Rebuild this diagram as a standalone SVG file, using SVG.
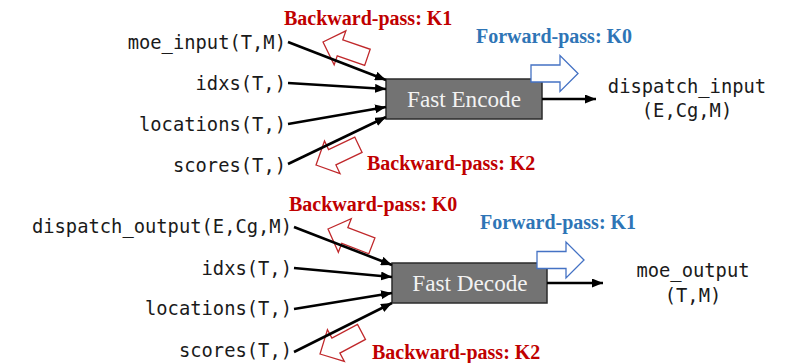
<svg xmlns="http://www.w3.org/2000/svg" width="804" height="363" viewBox="0 0 804 363">
  <style>
    .mono { font-family: "DejaVu Sans Mono", "Liberation Mono", monospace; font-size: 18.8px; fill: #1a1a1a; }
    .box { fill: #737373; stroke: #2b2b2b; stroke-width: 1.5; }
    .boxtxt { font-family: "Liberation Serif", "Times New Roman", serif; font-size: 23.2px; fill: #f2f2f2; text-anchor: middle; }
    .bwd { font-family: "Liberation Serif", "Times New Roman", serif; font-size: 20px; font-weight: bold; fill: #c00000; }
    .fwd { font-family: "Liberation Serif", "Times New Roman", serif; font-size: 20px; font-weight: bold; fill: #2e75b6; }
    .wire { stroke: #000; stroke-width: 2.6; fill: none; marker-end: url(#head); }
    .hollow-red { fill: none; stroke: #c0282b; stroke-width: 1.3; }
    .hollow-blue { fill: #fff; stroke: #4472c4; stroke-width: 1.3; }
  </style>
  <defs>
    <marker id="head" markerUnits="userSpaceOnUse" markerWidth="11" markerHeight="9" refX="11" refY="4.5" orient="auto">
      <path d="M0,0 L11,4.5 L0,9 z" fill="#000"/>
    </marker>
    <!-- block arrow with its tip at the origin, pointing along +x -->
    <path id="blockArrow" d="M0,0 L-18,-18 L-18,-8.5 L-47,-8.5 L-47,8.5 L-18,8.5 L-18,18 Z"/>
  </defs>

  <!-- ===== Encode stage ===== -->
  <g id="encode-inputs">
    <text class="mono" x="286" y="49" text-anchor="end">moe_input(T,M)</text>
    <text class="mono" x="286" y="90" text-anchor="end">idxs(T,)</text>
    <text class="mono" x="286" y="131" text-anchor="end">locations(T,)</text>
    <text class="mono" x="286" y="172" text-anchor="end">scores(T,)</text>
  </g>

  <g id="encode-backward">
    <use href="#blockArrow" class="hollow-red" transform="translate(323,42) rotate(199)"/>
    <use href="#blockArrow" class="hollow-red" transform="translate(316,165) rotate(154.5)"/>
    <text class="bwd" x="284" y="25">Backward-pass: K1</text>
    <text class="bwd" x="367" y="170">Backward-pass: K2</text>
  </g>

  <g id="fast-encode">
    <rect class="box" x="386" y="79" width="156" height="40"/>
    <text class="boxtxt" x="464" y="107">Fast Encode</text>
  </g>

  <g id="encode-forward">
    <use href="#blockArrow" class="hollow-blue" transform="translate(578,73.5)"/>
    <text class="fwd" x="476" y="43">Forward-pass: K0</text>
  </g>

  <g id="encode-output">
    <text class="mono" x="687" y="93" text-anchor="middle">dispatch_input</text>
    <text class="mono" x="687" y="117" text-anchor="middle">(E,Cg,M)</text>
  </g>

  <!-- ===== Decode stage ===== -->
  <g id="decode-inputs">
    <text class="mono" x="292" y="233" text-anchor="end">dispatch_output(E,Cg,M)</text>
    <text class="mono" x="292" y="275" text-anchor="end">idxs(T,)</text>
    <text class="mono" x="292" y="315" text-anchor="end">locations(T,)</text>
    <text class="mono" x="292" y="357" text-anchor="end">scores(T,)</text>
  </g>

  <g id="decode-backward">
    <use href="#blockArrow" class="hollow-red" transform="translate(328,229) rotate(201)"/>
    <use href="#blockArrow" class="hollow-red" transform="translate(320,354) rotate(152)"/>
    <text class="bwd" x="289" y="211">Backward-pass: K0</text>
    <text class="bwd" x="372" y="359">Backward-pass: K2</text>
  </g>

  <g id="fast-decode">
    <rect class="box" x="392" y="263" width="155" height="40"/>
    <text class="boxtxt" x="470" y="291">Fast Decode</text>
  </g>

  <g id="decode-forward">
    <use href="#blockArrow" class="hollow-blue" transform="translate(584,260)"/>
    <text class="fwd" x="480" y="229">Forward-pass: K1</text>
  </g>

  <g id="decode-output">
    <text class="mono" x="693" y="277" text-anchor="middle">moe_output</text>
    <text class="mono" x="693" y="302" text-anchor="middle">(T,M)</text>
  </g>

  <!-- ===== connectors ===== -->
  <g id="connectors">
    <line class="wire" x1="288" y1="42" x2="386" y2="80"/>
    <line class="wire" x1="288" y1="83" x2="386" y2="89"/>
    <line class="wire" x1="288" y1="124" x2="386" y2="107"/>
    <line class="wire" x1="288" y1="164" x2="386" y2="117"/>
    <line class="wire" x1="542" y1="99" x2="596" y2="99"/>

    <line class="wire" x1="294" y1="227" x2="392" y2="265"/>
    <line class="wire" x1="294" y1="268" x2="392" y2="277"/>
    <line class="wire" x1="294" y1="309" x2="392" y2="293"/>
    <line class="wire" x1="294" y1="352" x2="392" y2="303"/>
    <line class="wire" x1="547" y1="283" x2="603" y2="283"/>
  </g>
</svg>
